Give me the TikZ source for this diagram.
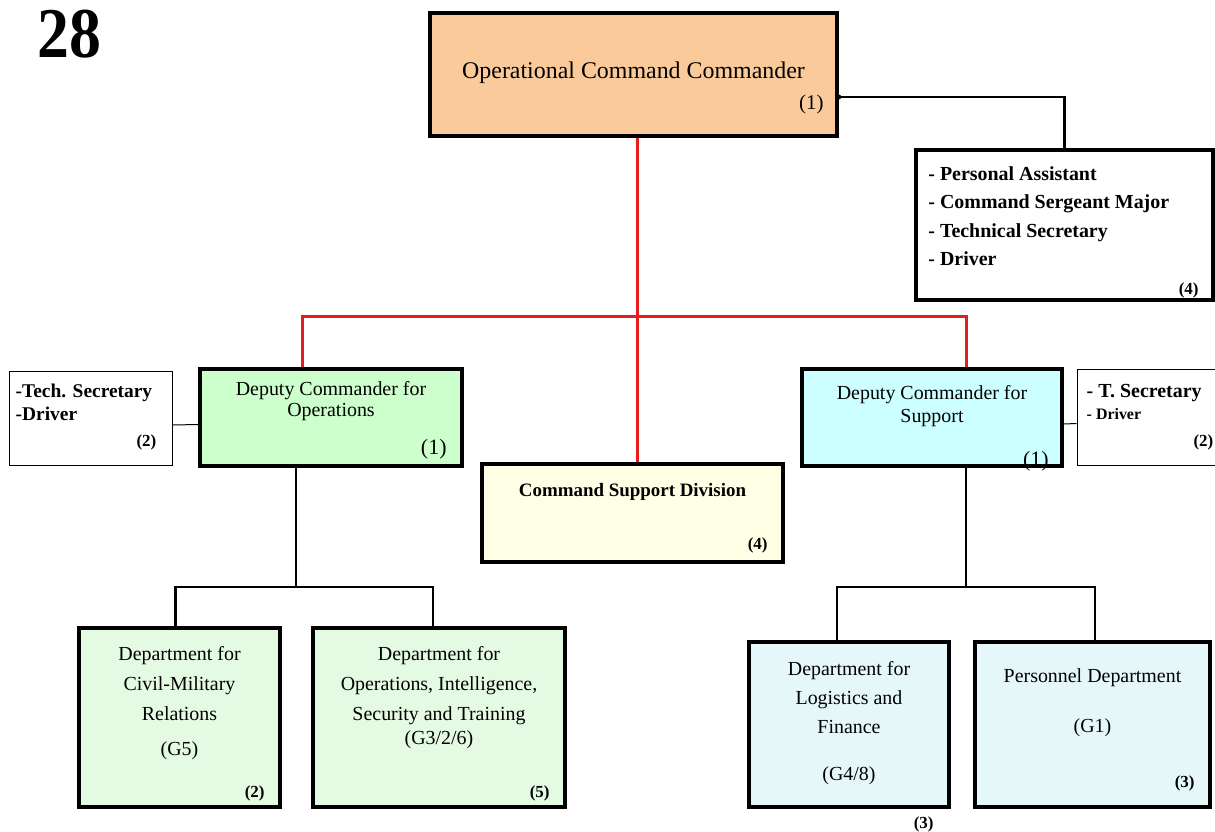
\documentclass[tikz,border=0pt]{standalone}
\usepackage{fontspec}
\setmainfont{Liberation Serif}
\usetikzlibrary{positioning}
\definecolor{peach}{RGB}{250,202,155}
\definecolor{opsgreen}{RGB}{204,255,204}
\definecolor{deptgreen}{RGB}{229,250,226}
\definecolor{supcyan}{RGB}{204,255,255}
\definecolor{deptcyan}{RGB}{230,247,250}
\definecolor{csdyellow}{RGB}{255,255,230}
\definecolor{linkred}{RGB}{228,30,30}

\tikzset{
  box/.style={draw, line width=3.5bp, rectangle, inner sep=0},
  staffbox/.style={draw, line width=1bp, rectangle, inner sep=0, fill=white},
  txt/.style={inner sep=0, align=center},
  cnt/.style={inner sep=0, font=\fontsize{17}{17}\selectfont\bfseries},
  link/.style={line width=2.5bp},
  redlink/.style={line width=3bp, linkred}
}

\begin{document}
\begin{tikzpicture}[x=1bp,y=-1bp]
\useasboundingbox (0,0) rectangle (1215,832);
\node[anchor=base west, inner sep=0, font=\fontsize{64}{64}\selectfont\bfseries] (page) at (37,57) {\scalebox{1}[1.12]{28}};

% commander and his staff
\node[box, fill=peach, minimum width=407bp, minimum height=123bp] (occ) at (633.5,74.5) {};
\node[txt, font=\fontsize{24}{26}\selectfont, below=50bp of occ.north] (occ-t) {Operational Command Commander};
\node[inner sep=0, font=\fontsize{21}{21}\selectfont, above left=24bp and 15bp of occ.south east] (occ-n) {(1)};
\node[box, fill=white, minimum width=297bp, minimum height=150bp] (staff) at (1064.5,225) {};
\node[txt, align=left, font=\fontsize{20}{28.5}\selectfont\bfseries, below right=18bp and 14bp of staff.north west] (staff-t) {- Personal Assistant\\- Command Sergeant Major\\- Technical Secretary\\- Driver};
\node[cnt, above left=3bp and 16bp of staff.south east] (staff-n) {(4)};

% deputies
\node[box, fill=opsgreen, minimum width=262bp, minimum height=97bp] (ops) at (331,417.5) {};
\node[txt, font=\fontsize{20}{21}\selectfont, below=14bp of ops.north] (ops-t) {Deputy Commander for\\Operations};
\node[inner sep=0, font=\fontsize{22}{22}\selectfont, above left=8bp and 17bp of ops.south east] (ops-n) {(1)};
\node[staffbox, minimum width=162bp, minimum height=94bp] (opsstaff) at (91,418) {};
\node[txt, align=left, font=\fontsize{19.5}{23}\selectfont\bfseries, below right=13bp and 6bp of opsstaff.north west] (opsstaff-t) {-Tech. Secretary\\-Driver};
\node[cnt, above left=15bp and 16bp of opsstaff.south east] (opsstaff-n) {(2)};

\node[box, fill=supcyan, minimum width=260bp, minimum height=97bp] (sup) at (932,417.5) {};
\node[txt, font=\fontsize{20}{23}\selectfont, below=18bp of sup.north] (sup-t) {Deputy Commander for\\Support};
\node[inner sep=0, font=\fontsize{22}{22}\selectfont, above left=-4bp and 15bp of sup.south east] (sup-n) {(1)};
\node[staffbox, minimum width=143bp, minimum height=96bp] (supstaff) at (1148.5,417) {};
\node[txt, align=left, font=\fontsize{20}{20}\selectfont\bfseries, below right=16bp and 10bp of supstaff.north west] (supstaff-t) {- T. Secretary\\[2bp]{\fontsize{16}{16}\selectfont - Driver}};
\node[cnt, above left=15bp and 7bp of supstaff.south east] (supstaff-n) {(2)};

% command support
\node[box, fill=csdyellow, minimum width=301bp, minimum height=98bp] (csd) at (632.5,513) {};
\node[txt, font=\fontsize{19}{19}\selectfont\bfseries, below=21bp of csd.north] (csd-t) {Command Support Division};
\node[cnt, above left=10bp and 17bp of csd.south east] (csd-n) {(4)};

% departments
\node[box, fill=deptgreen, minimum width=201bp, minimum height=179bp] (cmr) at (179.5,717.5) {};
\node[txt, font=\fontsize{20}{30}\selectfont, below=20bp of cmr.north] (cmr-t) {Department for\\Civil-Military\\Relations\\[5bp](G5)};
\node[cnt, above left=7bp and 17bp of cmr.south east] (cmr-n) {(2)};
\node[box, fill=deptgreen, minimum width=252bp, minimum height=179bp] (oist) at (439,717.5) {};
\node[txt, font=\fontsize{20}{30}\selectfont, below=20bp of oist.north] (oist-t) {Department for\\Operations, Intelligence,\\Security and Training\\[-6bp](G3/2/6)};
\node[cnt, above left=7bp and 17bp of oist.south east] (oist-n) {(5)};

\node[box, fill=deptcyan, minimum width=200bp, minimum height=165bp] (log) at (849,724.5) {};
\node[txt, font=\fontsize{20}{29}\selectfont, below=21bp of log.north] (log-t) {Department for\\Logistics and\\Finance\\[18bp](G4/8)};
\node[cnt, below left=8bp and 17bp of log.south east] (log-n) {(3)};
\node[box, fill=deptcyan, minimum width=235bp, minimum height=165bp] (pers) at (1092.5,724.5) {};
\node[txt, font=\fontsize{20}{50}\selectfont, below=28bp of pers.north] (pers-t) {Personnel Department\\(G1)};
\node[cnt, above left=17bp and 17bp of pers.south east] (pers-n) {(3)};

% connectors
\coordinate (hub) at (637,316);
\draw[redlink] (occ.south -| hub) -- (csd.north -| hub);
\draw[redlink] ([xshift=-29bp]ops.north) |- (hub) -| ([xshift=34bp]sup.north);
\draw[link] ([yshift=-22.5bp]occ.east) -| (staff.north);
\fill ([yshift=-22.5bp]occ.east) circle (2.5bp);
\draw[line width=1bp] ([yshift=-7bp]opsstaff.east) -- ([yshift=-7bp]ops.west);
\draw[line width=1bp] ([yshift=-6.5bp]sup.east) -- ([yshift=-6.5bp]supstaff.west);
\coordinate (opsbus) at (296,587);
\draw[link] (ops.south -| opsbus) -- (opsbus);
\draw[link] ([xshift=-4bp]cmr.north) |- (opsbus) -| ([xshift=-6bp]oist.north);
\coordinate (supbus) at (966,587);
\draw[link] (sup.south -| supbus) -- (supbus);
\draw[link] ([xshift=-12bp]log.north) |- (supbus) -| ([xshift=2.5bp]pers.north);
\end{tikzpicture}
\end{document}
